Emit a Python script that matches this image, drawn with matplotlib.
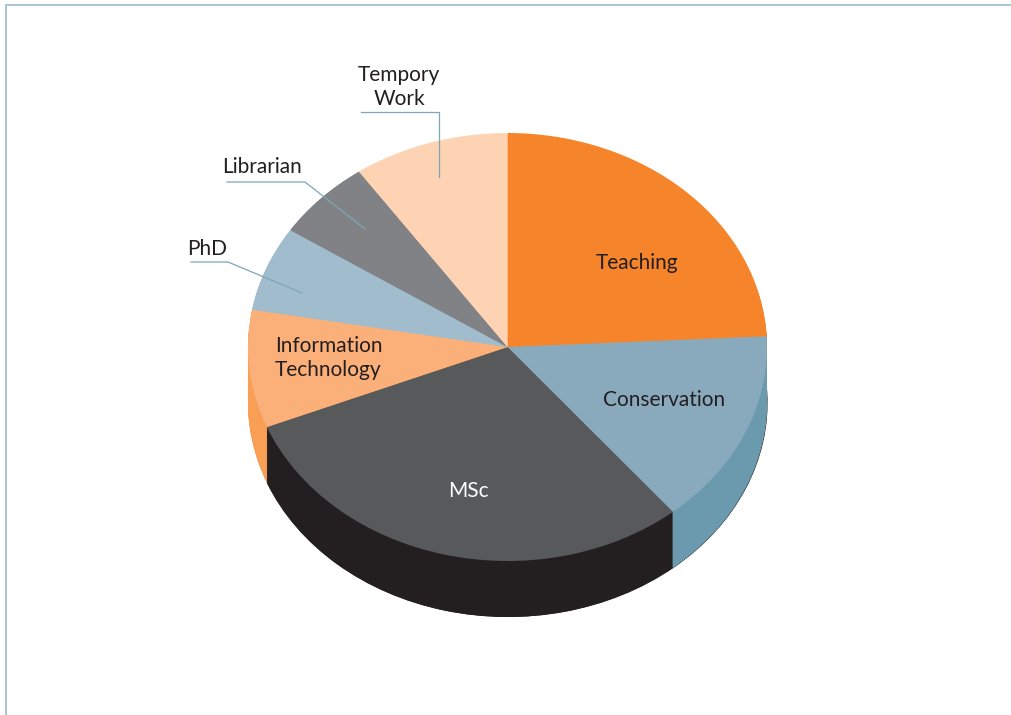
import numpy as np
import matplotlib
matplotlib.use('Agg')
import matplotlib.pyplot as plt
from matplotlib.transforms import Affine2D

plt.rcParams['font.family'] = ['Lato', 'DejaVu Sans']

# Share of each slice in %, clockwise from 12 o'clock
slices = ['Teaching', 'Conservation', 'MSc', 'Information\nTechnology', 'PhD', 'Librarian', 'Tempory\nWork']
values = [24.2, 14.8, 29.9, 8.9, 6.4, 6.1, 9.7]
top_colors = ['#f6842b', '#89aabd', '#58595b', '#fbb07a', '#a0bccd', '#808285', '#fdd3b3']
side_colors = ['#f6842b', '#6b9aae', '#231f20', '#f99f55', '#a0bccd', '#808285', '#fdd3b3']

W, H = 1011, 715
cx, cy = 507.5, 347    # centre of the top ellipse, pixels
rx, ry = 259.5, 214
depth = 56

fig = plt.figure(figsize=(W / 100, H / 100), dpi=100)
ax = fig.add_axes([0, 0, 1, 1])

# thin dark rim peeking out at the lower right
ax.pie(values, colors=[side_colors[2]] * len(values), startangle=90, counterclock=False,
       center=(0.6 / rx, -depth / ry), radius=1, wedgeprops={'linewidth': 0})
# extruded side: same pie stacked downwards, top face last
for d in np.arange(depth, 0, -1):
    ax.pie(values, colors=side_colors, startangle=90, counterclock=False,
           center=(0, -d / ry), radius=1, wedgeprops={'linewidth': 0})
ax.pie(values, colors=top_colors, startangle=90, counterclock=False,
       radius=1, wedgeprops={'linewidth': 0})

# squash the circle into the ellipse
ax.set_aspect('auto')
ax.set_xlim(-cx / rx, (W - cx) / rx)
ax.set_ylim((cy - H) / ry, cy / ry)
ax.set_axis_off()

# everything below is placed in pixels of the picture
px = Affine2D().scale(1 / W, -1 / H).translate(0, 1) + fig.transFigure

# page frame, top and left only
frame = '#a9c6d2'
ax.plot([5.5, W], [5, 5], color=frame, lw=1.4, transform=px, clip_on=False)
ax.plot([5.5, 5.5], [5, H], color=frame, lw=1.4, transform=px, clip_on=False)

# leader lines
leader = '#7fa5b8'
ax.plot([361, 438.5, 438.5], [112, 112, 177], color=leader, lw=0.9, transform=px)
ax.plot([227, 305, 365], [182, 182, 229], color=leader, lw=0.9, transform=px)
ax.plot([191, 228, 302], [262, 262, 293], color=leader, lw=0.9, transform=px)

# labels
dark = '#231f20'
label_pos = [(637, 263), (664, 400), (468, 491), (275, 358), (207, 249), (262, 167), (399, 87)]
for name, (x, y) in zip(slices, label_pos):
    is_it = name.startswith('Information')
    ax.text(x, y, name, transform=px, fontsize=15, linespacing=1.3,
            color='white' if name == 'MSc' else dark,
            ha='left' if is_it else 'center', va='center', multialignment='left' if is_it else 'center')

fig.savefig('out.png', dpi=100)
